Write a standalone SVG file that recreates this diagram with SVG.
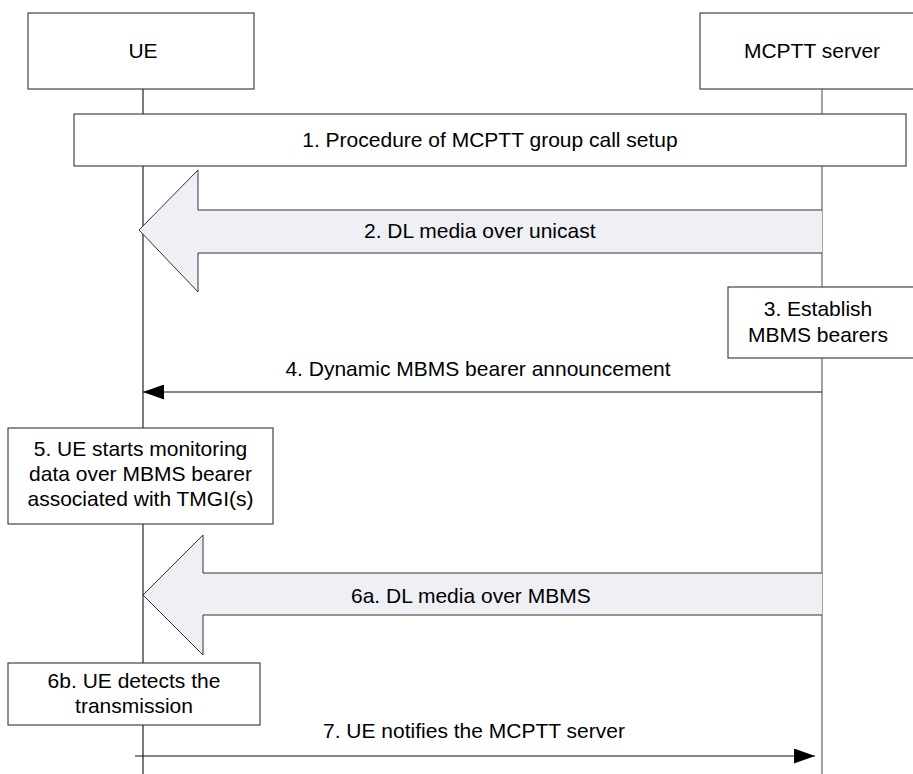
<svg xmlns="http://www.w3.org/2000/svg" width="913" height="774" viewBox="0 0 913 774">
<defs>
<style>
text{font-family:"Liberation Sans",Arial,sans-serif;font-size:21px;fill:#000}
.m{text-anchor:middle}
.box{fill:#fff;stroke:#444;stroke-width:1.2}
.life{stroke:#222;stroke-width:1.2;fill:none}
.life2{stroke:#666;stroke-width:1.2;fill:none}
.msg{stroke:#111;stroke-width:1.2;fill:none}
.big{fill:#EEF0F5;stroke:#333;stroke-width:1}
</style>
<marker id="ah" viewBox="0 0 21 15" refX="21" refY="7.5" markerWidth="21" markerHeight="15" markerUnits="userSpaceOnUse" orient="auto">
<path d="M0,0 L21,7.5 L0,15 Z" fill="#000"/>
</marker>
</defs>
<rect width="913" height="774" fill="#fff"/>
<g id="lifelines">
<line class="life" x1="143" y1="89" x2="143" y2="774"/>
<line class="life2" x1="822" y1="89" x2="822" y2="774"/>
</g>
<g id="ue">
<rect class="box" x="28" y="13" width="226" height="76"/>
<text class="m" x="143" y="58">UE</text>
</g>
<g id="server">
<rect class="box" x="700" y="13" width="224" height="76"/>
<text class="m" x="812" y="58">MCPTT server</text>
</g>
<g id="step1">
<rect class="box" x="74" y="114" width="832" height="52"/>
<text class="m" x="490" y="147">1. Procedure of MCPTT group call setup</text>
</g>
<g id="step3">
<rect class="box" x="728" y="287" width="190" height="71"/>
<text class="m" x="818" y="316">3. Establish</text>
<text class="m" x="818" y="342">MBMS bearers</text>
</g>
<g id="step5">
<rect class="box" x="8" y="428" width="265" height="96"/>
<text class="m" x="140.5" y="456">5. UE starts monitoring</text>
<text class="m" x="140.5" y="481">data over MBMS bearer</text>
<text class="m" x="140.5" y="506">associated with TMGI(s)</text>
</g>
<g id="step6b">
<rect class="box" x="8" y="663" width="252" height="62"/>
<text class="m" x="134" y="688">6b. UE detects the</text>
<text class="m" x="134" y="713">transmission</text>
</g>
<g id="connectors">
<path class="big" d="M822,210 L198,210 L198,170 L139,230 L198,292 L198,253 L822,253"/>
<text x="364" y="238">2. DL media over unicast</text>
<line class="msg" x1="822" y1="392" x2="143" y2="392" marker-end="url(#ah)"/>
<text class="m" x="478" y="376">4. Dynamic MBMS bearer announcement</text>
<path class="big" d="M822,573 L203,573 L203,535 L143,595 L203,655 L203,615 L822,615"/>
<text x="351" y="603">6a. DL media over MBMS</text>
<line class="msg" x1="135" y1="756" x2="815" y2="756" marker-end="url(#ah)"/>
<text x="323" y="738">7. UE notifies the MCPTT server</text>
</g>
</svg>
